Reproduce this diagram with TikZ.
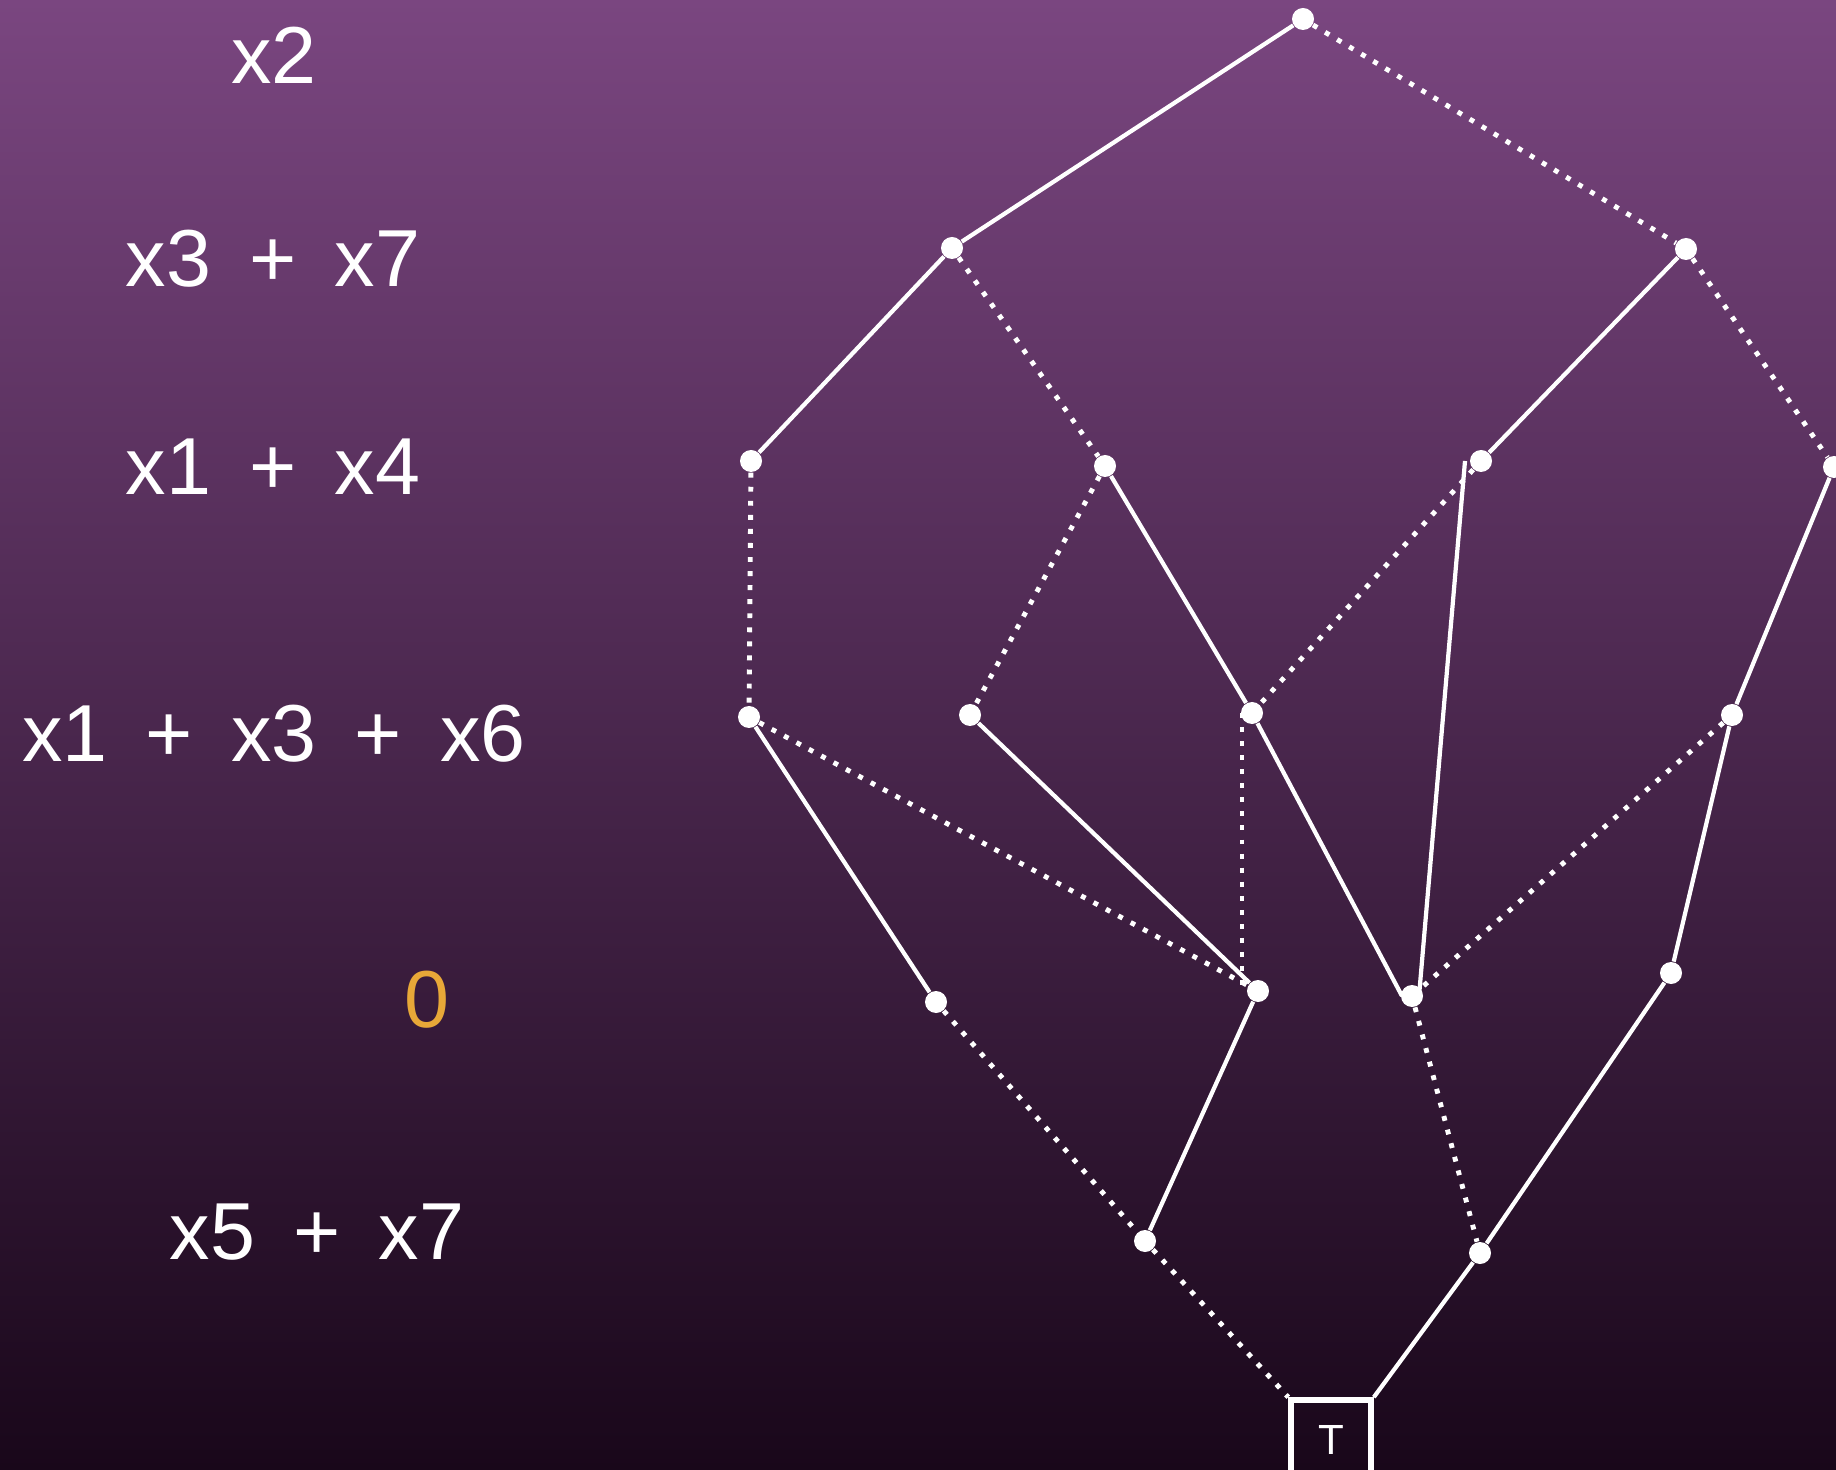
\documentclass[tikz,border=0pt]{standalone}
\usepackage{fontspec}
\setmainfont{Liberation Sans}[WordSpace=1.7]
\usetikzlibrary{positioning}
\definecolor{bddTop}{RGB}{122,70,128}
\definecolor{bddBot}{RGB}{25,7,26}
\definecolor{bddNaranja}{RGB}{232,168,56}
\pgfdeclarelayer{fondo}
\pgfdeclarelayer{aristas}
\pgfsetlayers{fondo,aristas,main}
\begin{document}
\begin{tikzpicture}[
      vtx/.style={circle, fill=white, inner sep=0pt, minimum size=0.22cm},
      hi/.style={draw=white, line width=1.2pt},
      lo/.style={draw=white, line width=1.4pt, dash pattern=on 1.4pt off 2.6pt},
      term/.style={draw=white, line width=1.6pt, minimum size=0.8cm, inner sep=0pt,
                   text=white, font=\fontsize{12}{14}\selectfont},
      lbl/.style={text=white, font=\fontsize{23}{27}\selectfont}]
    % fondo
    \begin{pgfonlayer}{fondo}
      \shade[top color=bddTop, bottom color=bddBot] (0,0) rectangle (18.36,-14.70);
    \end{pgfonlayer}
    \useasboundingbox (0,0) rectangle (18.36,-14.70);
    % etiquetas de nivel
    \node[lbl] (l1) at (2.74,-0.55) {x2};
    \node[lbl] (l2) at (2.73,-2.59) {x3 + x7};
    \node[lbl] (l3) at (2.73,-4.67) {x1 + x4};
    \node[lbl] (l4) at (2.74,-7.34) {x1 + x3 + x6};
    \node[lbl, text=bddNaranja] (l5) at (4.27,-10.00) {0};
    \node[lbl] (l6) at (3.17,-12.32) {x5 + x7};
    % nodos
    \node[vtx] (r)  at (13.03,-0.19) {};
    \node[vtx] (a1) at (9.52,-2.48) {};
    \node[vtx] (a2) at (16.86,-2.49) {};
    \node[vtx] (b1) at (7.51,-4.61) {};
    \node[vtx] (b2) at (11.05,-4.66) {};
    \node[vtx] (b3) at (14.81,-4.61) {};
    \node[vtx] (b4) at (18.34,-4.67) {};
    \node[vtx] (c1) at (7.49,-7.17) {};
    \node[vtx] (c2) at (9.70,-7.15) {};
    \node[vtx] (c3) at (12.52,-7.13) {};
    \node[vtx] (c4) at (17.32,-7.15) {};
    \node[vtx] (d1) at (9.36,-10.02) {};
    \node[vtx] (d2) at (12.58,-9.91) {};
    \node[vtx] (d3) at (14.12,-9.96) {};
    \node[vtx] (d4) at (16.71,-9.73) {};
    \node[vtx] (e1) at (11.45,-12.41) {};
    \node[vtx] (e2) at (14.80,-12.53) {};
    \node[term] (t) at (13.31,-14.40) {T};
    % aristas
    \begin{pgfonlayer}{aristas}
      \draw[hi] (r)--(a1); \draw[lo] (r)--(a2);
      \draw[hi] (a1)--(b1); \draw[lo] (a1)--(b2);
      \draw[hi] (a2)--(b3); \draw[lo] (a2)--(b4);
      \draw[lo] (b1)--(c1);
      \draw[lo] (b2)--(c2); \draw[hi] (b2)--(c3);
      \draw[lo] (b3)--(c3); \draw[hi] ([xshift=-0.16cm]b3.center)--([xshift=0.07cm]d3.center);
      \draw[hi] (b4)--(c4);
      \draw[hi] (c1)--(d1); \draw[lo] (c1)--(d2);
      \draw[hi] (c2)--(d2);
      \draw[lo] ([xshift=-0.10cm]c3.center)--([xshift=-0.16cm]d2.center);
      \draw[hi] (c3)--([xshift=-0.1cm]d3.center);
      \draw[lo] (c4)--(d3); \draw[hi] (c4)--(d4);
      \draw[lo] (d1)--(e1); \draw[hi] (d2)--(e1);
      \draw[lo] (d3)--(e2); \draw[hi] (d4)--(e2);
      \draw[lo] (e1)--(t.north west); \draw[hi] (e2)--(t.north east);
    \end{pgfonlayer}
  \end{tikzpicture}
\end{document}
